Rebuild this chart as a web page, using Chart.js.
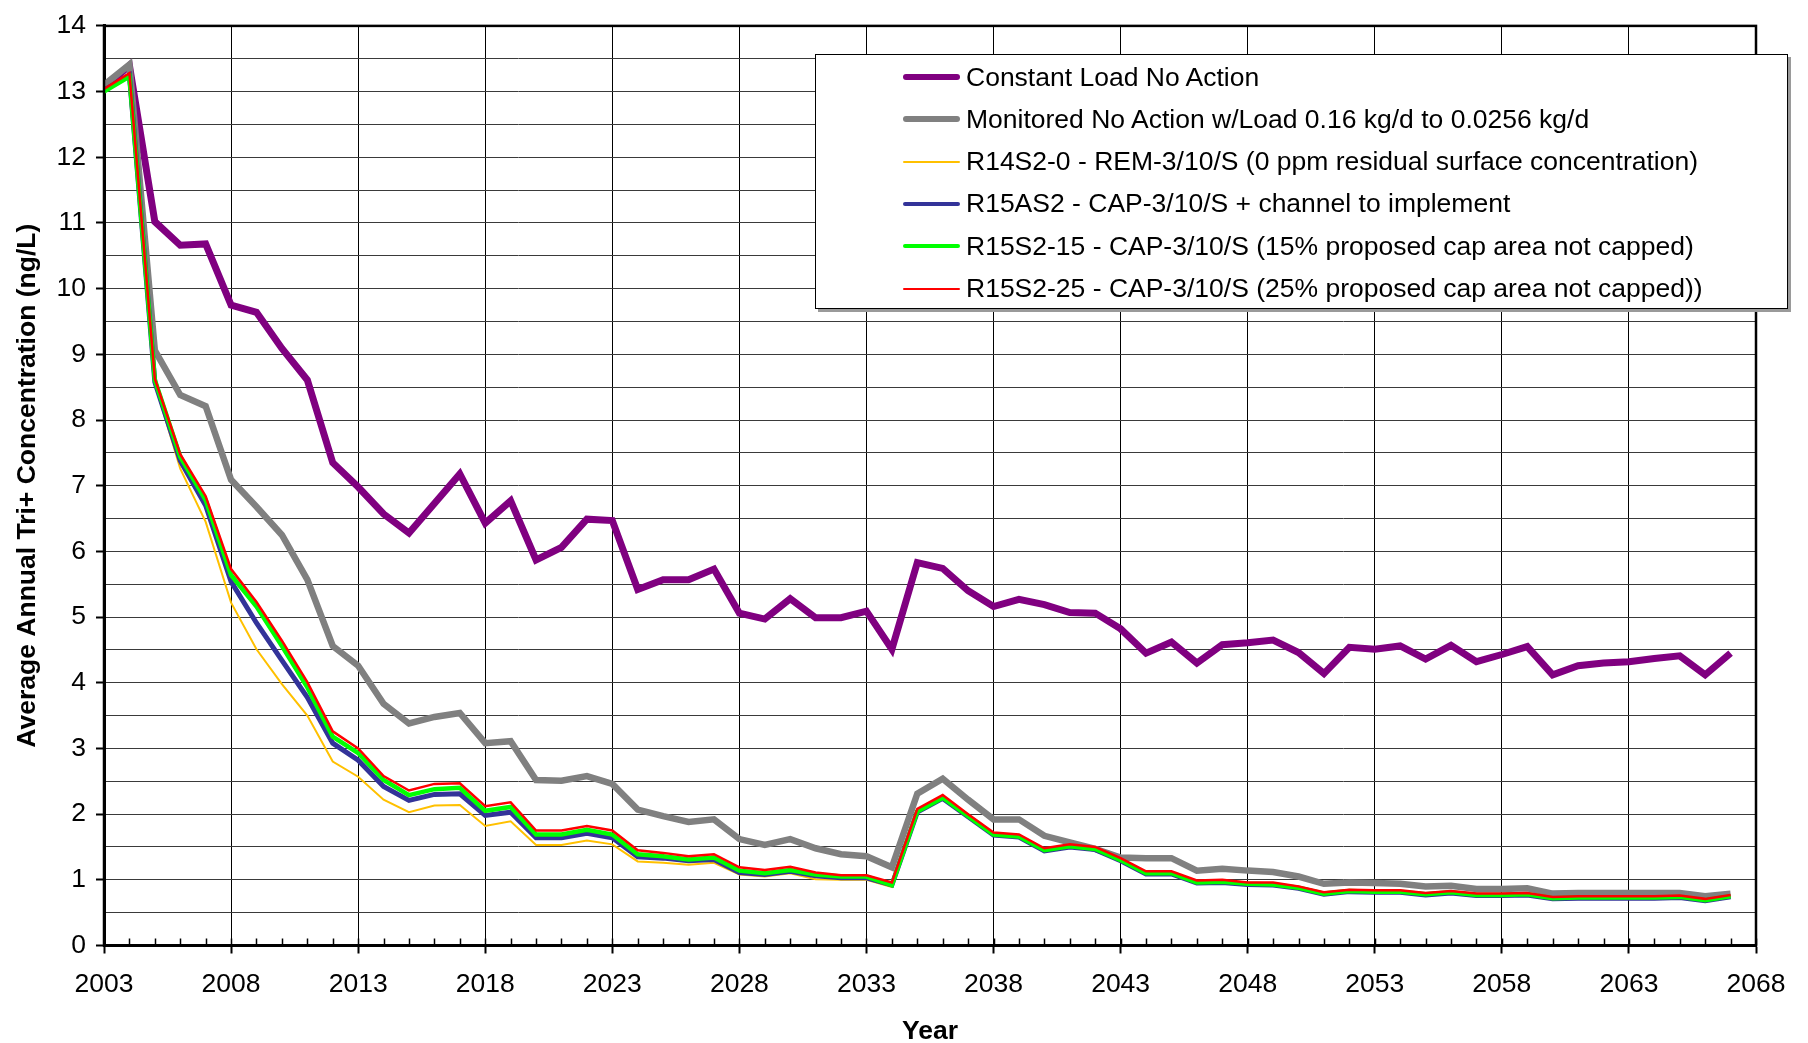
<!DOCTYPE html>
<html><head><meta charset="utf-8">
<script src="https://cdn.jsdelivr.net/npm/chart.js@4.4.1/dist/chart.umd.min.js"></script>
<style>
html,body{margin:0;padding:0;background:#fff;}
#wrap{position:relative;width:1808px;height:1043px;}
#legend{position:absolute;left:815px;top:54px;width:973px;height:255px;background:#fff;border:1px solid #000;box-shadow:3px 3px 0 #9a9a9a;box-sizing:border-box;font-family:"Liberation Sans",Arial,sans-serif;font-size:26.5px;color:#000;}
.item{position:absolute;left:0;height:42px;display:flex;align-items:center;}
.swatch{margin-left:87px;width:57px;border-radius:3px;}
.lab{margin-left:6px;white-space:nowrap;}
</style></head>
<body><div id="wrap"><canvas id="c" width="1808" height="1043"></canvas><div id="legend"></div></div>
<script>
const years = [2003,2004,2005,2006,2007,2008,2009,2010,2011,2012,2013,2014,2015,2016,2017,2018,2019,2020,2021,2022,2023,2024,2025,2026,2027,2028,2029,2030,2031,2032,2033,2034,2035,2036,2037,2038,2039,2040,2041,2042,2043,2044,2045,2046,2047,2048,2049,2050,2051,2052,2053,2054,2055,2056,2057,2058,2059,2060,2061,2062,2063,2064,2065,2066,2067];

const constantLoad = [13.05,13.40,11.02,10.66,10.68,9.75,9.64,9.09,8.61,7.35,6.98,6.57,6.28,6.73,7.18,6.43,6.77,5.87,6.06,6.49,6.47,5.42,5.57,5.57,5.73,5.06,4.97,5.28,4.99,4.99,5.09,4.51,5.83,5.74,5.40,5.16,5.27,5.19,5.07,5.06,4.82,4.45,4.62,4.30,4.58,4.61,4.65,4.46,4.14,4.54,4.51,4.56,4.36,4.57,4.32,4.43,4.55,4.12,4.26,4.30,4.32,4.37,4.41,4.12,4.45];

const monitored = [13.10,13.41,9.06,8.38,8.21,7.09,6.68,6.25,5.57,4.56,4.26,3.68,3.38,3.48,3.54,3.08,3.11,2.52,2.51,2.58,2.46,2.07,1.97,1.88,1.92,1.62,1.53,1.62,1.48,1.39,1.36,1.19,2.31,2.54,2.22,1.92,1.92,1.67,1.57,1.47,1.34,1.33,1.33,1.14,1.17,1.14,1.12,1.05,0.94,0.96,0.95,0.94,0.90,0.91,0.86,0.86,0.87,0.79,0.80,0.80,0.80,0.80,0.80,0.75,0.79];

const r14s2_0 = [13.00,13.25,8.55,7.26,6.45,5.22,4.51,3.98,3.50,2.80,2.57,2.22,2.03,2.13,2.14,1.82,1.89,1.53,1.53,1.60,1.54,1.28,1.26,1.23,1.26,1.08,1.05,1.10,1.01,1.00,1.00,0.89,2.02,2.24,1.96,1.68,1.65,1.44,1.50,1.46,1.29,1.09,1.09,0.95,0.96,0.93,0.92,0.87,0.78,0.82,0.81,0.81,0.77,0.80,0.76,0.76,0.77,0.71,0.72,0.72,0.72,0.72,0.73,0.68,0.74];

const r15as2 = [13.02,13.25,8.58,7.38,6.70,5.54,4.91,4.34,3.78,3.08,2.82,2.42,2.21,2.30,2.31,1.98,2.03,1.64,1.64,1.71,1.64,1.35,1.33,1.29,1.31,1.11,1.08,1.13,1.06,1.03,1.03,0.92,2.03,2.24,1.96,1.68,1.65,1.44,1.50,1.46,1.29,1.09,1.09,0.95,0.96,0.93,0.92,0.87,0.78,0.82,0.81,0.81,0.77,0.80,0.76,0.76,0.77,0.71,0.72,0.72,0.72,0.72,0.73,0.68,0.74];

const r15s2_15 = [13.00,13.23,8.61,7.44,6.78,5.64,5.16,4.56,3.93,3.18,2.93,2.52,2.29,2.38,2.40,2.05,2.11,1.69,1.69,1.76,1.69,1.39,1.36,1.31,1.34,1.14,1.10,1.15,1.08,1.05,1.05,0.92,2.04,2.25,1.97,1.69,1.66,1.45,1.51,1.47,1.30,1.10,1.10,0.96,0.97,0.94,0.93,0.88,0.79,0.83,0.82,0.82,0.78,0.81,0.77,0.77,0.78,0.72,0.73,0.73,0.73,0.73,0.74,0.69,0.75];

const r15s2_25 = [13.04,13.28,8.63,7.48,6.84,5.73,5.23,4.64,4.01,3.26,3.00,2.58,2.36,2.46,2.47,2.12,2.18,1.75,1.75,1.82,1.75,1.45,1.41,1.36,1.39,1.19,1.15,1.20,1.11,1.07,1.07,0.96,2.08,2.29,2.00,1.72,1.69,1.48,1.54,1.50,1.33,1.13,1.13,0.99,1.00,0.96,0.96,0.90,0.81,0.85,0.84,0.84,0.80,0.83,0.79,0.79,0.80,0.74,0.75,0.75,0.75,0.75,0.76,0.71,0.77];

const seriesLabels = [
  "Constant Load No Action",
  "Monitored No Action w/Load 0.16 kg/d to 0.0256 kg/d",
  "R14S2-0 - REM-3/10/S (0 ppm residual surface concentration)",
  "R15AS2 - CAP-3/10/S + channel to implement",
  "R15S2-15 - CAP-3/10/S (15% proposed cap area not capped)",
  "R15S2-25 - CAP-3/10/S (25% proposed cap area not capped))"
];
const seriesValues = [constantLoad, monitored, r14s2_0, r15as2, r15s2_15, r15s2_25];
const seriesColors = ["#800080", "#808080", "#FFC000", "#333399", "#00FF00", "#FF0000"];
const seriesWidths = [7, 6.5, 2, 5, 4.5, 2.5];
const legendWidths = [6, 6, 2, 4, 4, 2];

const xMin = 2003, xMax = 2068, yMin = 0, yMax = 14;
const FONT = '"Liberation Sans", Arial, sans-serif';
const FS = 26.5;

const datasets = seriesValues.map((vals, i) => ({
  label: seriesLabels[i],
  data: years.map((yr, j) => ({x: yr, y: vals[j]})),
  borderColor: seriesColors[i],
  backgroundColor: seriesColors[i],
  borderWidth: seriesWidths[i],
  pointRadius: 0,
  tension: 0,
  fill: false,
  order: seriesValues.length - i
}));

const frame = {
  id: 'frame',
  afterDraw(chart) {
    const {ctx, chartArea: a, scales: {x}} = chart;
    ctx.save();
    ctx.strokeStyle = '#000';
    ctx.lineWidth = 1.5;
    for (let yr = xMin; yr <= xMax; yr++) {
      const px = Math.round(x.getPixelForValue(yr)) + 0.5;
      ctx.beginPath();
      ctx.moveTo(px, a.bottom);
      ctx.lineTo(px, a.bottom - 7);
      ctx.stroke();
    }
    ctx.lineWidth = 2.5;
    ctx.strokeRect(a.left, a.top, a.right - a.left, a.bottom - a.top);
    ctx.restore();
  }
};

new Chart(document.getElementById('c'), {
  type: 'line',
  data: {datasets},
  plugins: [frame],
  options: {
    responsive: false,
    animation: false,
    devicePixelRatio: 1,
    layout: {padding: {top: 17, right: 52, bottom: 0, left: 0}},
    plugins: {legend: {display: false}, tooltip: {enabled: false}},
    scales: {
      x: {
        type: 'linear', min: xMin, max: xMax,
        afterFit(s) { s.height = 97.5; },
        border: {color: '#000', width: 3},
        grid: {
          color: c => (c.tick && (c.tick.value - xMin) % 5 === 0) ? '#000' : 'rgba(0,0,0,0)',
          tickColor: c => (c.tick && (c.tick.value - xMin) % 5 === 0) ? '#000' : 'rgba(0,0,0,0)',
          lineWidth: 1, tickLength: 8, tickWidth: 2
        },
        ticks: {
          stepSize: 1, autoSkip: false, maxRotation: 0, minRotation: 0, maxTicksLimit: 200,
          color: '#000', font: {family: FONT, size: FS}, padding: 15,
          callback: v => ((v - xMin) % 5 === 0 ? String(v) : '')
        },
        title: {display: true, text: 'Year', color: '#000', font: {family: FONT, size: FS, weight: 'bold'}, padding: {top: 0, bottom: -4.5}}
      },
      y: {
        min: yMin, max: yMax,
        afterFit(s) { s.width = 104; },
        border: {color: '#000', width: 3},
        grid: {
          color: '#3a3a3a', lineWidth: 1,
          tickColor: c => (c.tick && Number.isInteger(c.tick.value)) ? '#000' : 'rgba(0,0,0,0)',
          tickLength: 8, tickWidth: 2
        },
        ticks: {
          stepSize: 0.5, autoSkip: false, color: '#000', font: {family: FONT, size: FS}, padding: 10,
          callback: v => (Number.isInteger(v) ? String(v) : '')
        },
        title: {display: true, text: 'Average Annual Tri+ Concentration (ng/L)', color: '#000', font: {family: FONT, size: FS, weight: 'bold'}, padding: {top: 12, bottom: 0}}
      }
    }
  }
});

const leg = document.getElementById('legend');
seriesLabels.forEach((lab, i) => {
  const row = document.createElement('div');
  row.className = 'item';
  row.style.top = (1 + i * 42.3) + 'px';
  const sw = document.createElement('div');
  sw.className = 'swatch';
  sw.style.height = legendWidths[i] + 'px';
  sw.style.background = seriesColors[i];
  const t = document.createElement('span');
  t.className = 'lab';
  t.textContent = lab;
  row.appendChild(sw); row.appendChild(t);
  leg.appendChild(row);
});
</script>
</body></html>
